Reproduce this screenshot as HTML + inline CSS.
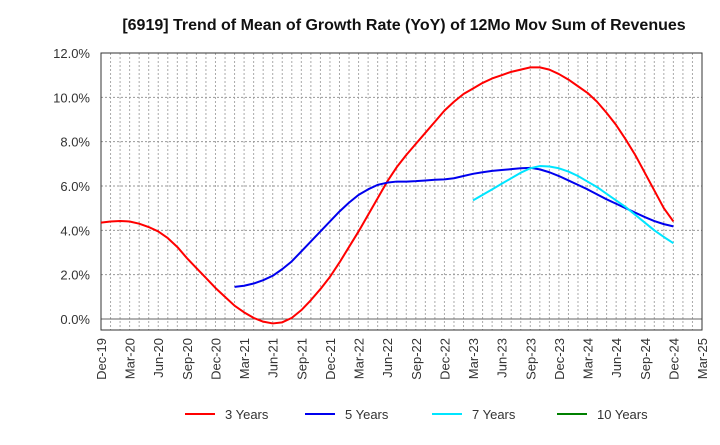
<!DOCTYPE html>
<html><head><meta charset="utf-8"><style>
body{margin:0;background:#fff;font-family:"Liberation Sans",Arial,sans-serif;}
svg text{font-family:"Liberation Sans",Arial,sans-serif;}
</style></head><body>
<svg id="chart" width="720" height="440">
<text x="404" y="30" text-anchor="middle" font-size="16" font-weight="bold" fill="#111">[6919]  Trend of Mean of Growth Rate (YoY) of 12Mo Mov Sum of Revenues</text>
<g id="grid"></g><g id="axes"></g><g id="series"></g><g id="legend"></g>
</svg>
<script>
const xLabels=["Dec-19","Mar-20","Jun-20","Sep-20","Dec-20","Mar-21","Jun-21","Sep-21","Dec-21","Mar-22","Jun-22","Sep-22","Dec-22","Mar-23","Jun-23","Sep-23","Dec-23","Mar-24","Jun-24","Sep-24","Dec-24","Mar-25"];
const yTicks=[0,2,4,6,8,10,12];
const s3Start=0;
const s3=[4.35,4.4,4.42,4.4,4.3,4.15,3.95,3.65,3.25,2.75,2.3,1.85,1.4,1.0,0.6,0.3,0.05,-0.12,-0.2,-0.15,0.05,0.4,0.85,1.35,1.9,2.55,3.25,3.95,4.7,5.45,6.2,6.85,7.4,7.9,8.4,8.9,9.4,9.8,10.15,10.4,10.65,10.85,11.0,11.15,11.25,11.35,11.35,11.25,11.05,10.8,10.5,10.2,9.8,9.3,8.75,8.1,7.4,6.6,5.8,5.0,4.4];
const s5Start=14;
const s5=[1.45,1.5,1.6,1.75,1.95,2.25,2.6,3.05,3.5,3.95,4.4,4.85,5.25,5.6,5.85,6.05,6.15,6.2,6.2,6.22,6.25,6.28,6.3,6.35,6.45,6.55,6.62,6.68,6.72,6.76,6.8,6.82,6.75,6.62,6.45,6.25,6.05,5.85,5.62,5.4,5.2,5.0,4.8,4.6,4.42,4.28,4.18];
const s7Start=39;
const s7=[5.35,5.6,5.85,6.1,6.35,6.6,6.8,6.9,6.88,6.8,6.65,6.45,6.2,5.95,5.65,5.35,5.05,4.7,4.35,4.0,3.7,3.42];
const s10=[];
const L=101,R=702,T=53,B=330;
const nMonths=(xLabels.length-1)*3;
const xs=m=>L+(R-L)*m/nMonths;
const ys=v=>319-(319-T)*v/12;
const NS="http://www.w3.org/2000/svg";
function mk(tag,attrs,parent){const e=document.createElementNS(NS,tag);for(const k in attrs)e.setAttribute(k,attrs[k]);parent.appendChild(e);return e;}
const grid=document.getElementById('grid'),axes=document.getElementById('axes'),ser=document.getElementById('series'),leg=document.getElementById('legend');
for(let m=1;m<nMonths;m++){const l=mk('line',{x1:xs(m),x2:xs(m),y1:T,y2:B,stroke:'#aaa','stroke-dasharray':'2,2','stroke-width':1},grid);

}
yTicks.forEach(v=>{const l=mk('line',{x1:L,x2:R,y1:ys(v),y2:ys(v),stroke:v===0?'#666':'#999','stroke-dasharray':v===0?'none':'2,2','stroke-width':1},grid);


const t=mk('text',{x:L-11,y:ys(v)+5,'text-anchor':'end','font-size':13,fill:'#333'},axes);t.textContent=v.toFixed(1)+'%';

});
const fr=mk('rect',{x:L,y:T,width:R-L,height:B-T,fill:'none',stroke:'#333','stroke-width':1},axes);


xLabels.forEach((lab,i)=>{const x=xs(i*3);const t=mk('text',{transform:`translate(${x+5},${B+8}) rotate(-90)`,'text-anchor':'end','font-size':13,fill:'#333'},axes);t.textContent=lab;

});
function line(arr,start,color,name){if(!arr.length)return;const p=mk('polyline',{points:arr.map((v,i)=>xs(start+i)+','+ys(v)).join(' '),fill:'none',stroke:color,'stroke-width':2,'stroke-linejoin':'round'},ser);

}
line(s3,s3Start,'#ff0000','line-3-years');
line(s5,s5Start,'#0000ee','line-5-years');
line(s7,s7Start,'#00e5ff','line-7-years');
line(s10,0,'#008000','line-10-years');
[['3 Years','#ff0000',185],['5 Years','#0000ee',305],['7 Years','#00e5ff',432],['10 Years','#008000',557]].forEach(([n,c,x])=>{
const g=mk('g',{},leg);


mk('line',{x1:x,x2:x+30,y1:414,y2:414,stroke:c,'stroke-width':2},g);
const t=mk('text',{x:x+40,y:419,'font-size':13,fill:'#333'},g);t.textContent=n;});
</script>
</body></html>
